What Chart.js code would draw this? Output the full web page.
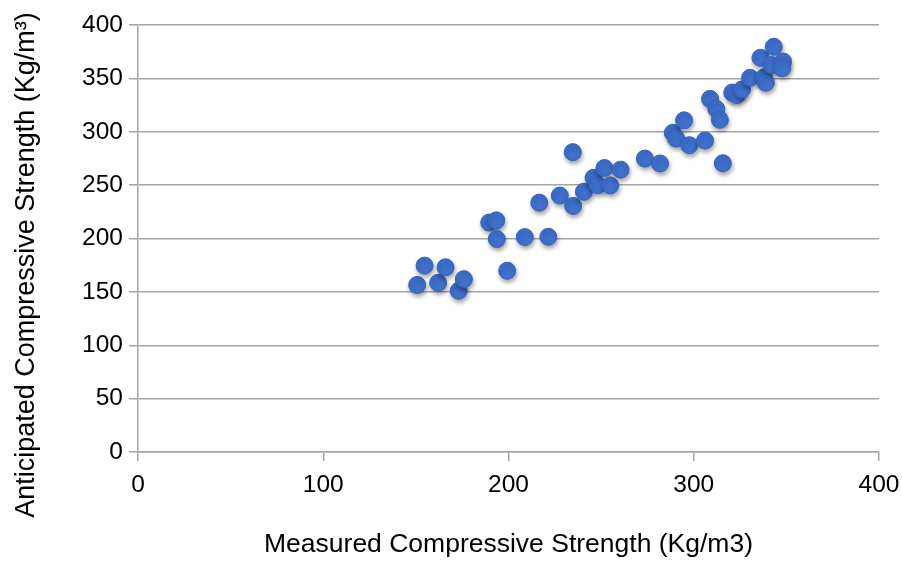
<!DOCTYPE html>
<html>
<head>
<meta charset="utf-8">
<script src="https://cdn.jsdelivr.net/npm/chart.js@4"></script>
<style>
  html, body { margin: 0; padding: 0; background: #fff; }
  #wrap { width: 902px; height: 561px; }
</style>
</head>
<body>
<div id="wrap"><canvas id="chart" width="902" height="561"></canvas></div>
<script>
// measured (x) and anticipated (y) compressive strength
const measured = [
    150.7, 154.7, 162.0, 166.0, 173.1, 175.9, 199.3, 189.6, 193.4, 193.7,
    208.8, 221.5, 216.6, 227.7, 234.9, 234.7, 240.7, 245.9, 248.2, 251.8,
    254.9, 260.5, 273.6, 281.8, 288.7, 290.5, 294.8, 297.6, 306.1, 308.8,
    312.2, 314.1, 315.7, 320.8, 323.3, 326.0, 330.4, 337.9, 338.9, 336.0,
    343.2, 341.9, 348.2, 347.7
];
const anticipated = [
    156.5, 174.6, 158.5, 173.0, 151.0, 161.9, 169.8, 214.9, 217.0, 199.5,
    201.3, 201.6, 233.6, 240.2, 230.5, 280.9, 243.8, 256.8, 249.9, 266.0,
    249.7, 264.5, 274.9, 270.3, 299.0, 293.6, 310.7, 287.4, 291.8, 330.8,
    321.3, 311.2, 270.5, 336.7, 334.4, 339.6, 350.5, 350.8, 346.0, 369.3,
    379.6, 362.5, 365.8, 359.5
];
const xTicks = [0, 100, 200, 300, 400];
const yTicks = [0, 50, 100, 150, 200, 250, 300, 350, 400];
const xTitle = "Measured Compressive Strength (Kg/m3)";
const yTitle = "Anticipated Compressive Strength (Kg/m\u00B3)";

const points = measured.map((x, i) => ({ x: x, y: anticipated[i] }));

const font = "'Liberation Sans', 'DejaVu Sans', sans-serif";
const gridColor = "#a6a6a6";

// soft drop shadow under the markers, like the original
const shadowPlugin = {
    id: "shadow",
    beforeDatasetDraw(chart) {
        const ctx = chart.ctx;
        ctx.save();
        ctx.shadowColor = "rgba(0,0,0,0.35)";
        ctx.shadowBlur = 4;
        ctx.shadowOffsetX = 1;
        ctx.shadowOffsetY = 3;
    },
    afterDatasetDraw(chart) {
        chart.ctx.restore();
    }
};

// y title sits a bit lower than the axis middle in the original
const yTitlePlugin = {
    id: "yTitle",
    afterDraw(chart) {
        const ctx = chart.ctx;
        ctx.save();
        ctx.translate(27, 265);
        ctx.rotate(-Math.PI / 2);
        ctx.font = "27px " + font;
        ctx.fillStyle = "#000";
        ctx.textAlign = "center";
        ctx.textBaseline = "middle";
        ctx.fillText(yTitle, 0, 0);
        ctx.restore();
    }
};

new Chart(document.getElementById("chart").getContext("2d"), {
    type: "scatter",
    data: {
        datasets: [{
            data: points,
            backgroundColor: "#3e70cc",
            borderColor: "#3463bb",
            borderWidth: 1,
            pointRadius: 8.5,
            pointHoverRadius: 8.5
        }]
    },
    options: {
        responsive: false,
        animation: false,
        layout: { padding: { top: 25, right: 23, left: 0, bottom: 0 } },
        plugins: {
            legend: { display: false },
            tooltip: { enabled: false }
        },
        scales: {
            x: {
                type: "linear",
                min: 0,
                max: 400,
                afterBuildTicks: (scale) => { scale.ticks = xTicks.map(v => ({ value: v })); },
                afterFit: (scale) => {
                    scale.height = 109;
                    scale.paddingLeft = 0;
                    scale.paddingRight = 0;
                },
                grid: {
                    drawOnChartArea: false,
                    drawTicks: true,
                    tickLength: 9,
                    color: gridColor,
                    lineWidth: 1.5
                },
                border: { color: gridColor, width: 1.5 },
                ticks: {
                    color: "#000",
                    padding: 10,
                    maxRotation: 0,
                    font: { family: font, size: 24.5 }
                },
                title: {
                    display: true,
                    text: xTitle,
                    color: "#000",
                    padding: { top: 16, bottom: 0 },
                    font: { family: font, size: 26.5 }
                }
            },
            y: {
                type: "linear",
                min: 0,
                max: 400,
                afterBuildTicks: (scale) => { scale.ticks = yTicks.map(v => ({ value: v })); },
                afterFit: (scale) => {
                    scale.width = 138;
                    scale.paddingTop = 0;
                    scale.paddingBottom = 0;
                },
                grid: {
                    drawTicks: true,
                    tickLength: 9,
                    color: gridColor,
                    lineWidth: 1.5
                },
                border: { color: gridColor, width: 1.5 },
                ticks: {
                    color: "#000",
                    padding: 6,
                    font: { family: font, size: 24.5 }
                },
                title: { display: false }
            }
        }
    },
    plugins: [shadowPlugin, yTitlePlugin]
});
</script>
</body>
</html>
